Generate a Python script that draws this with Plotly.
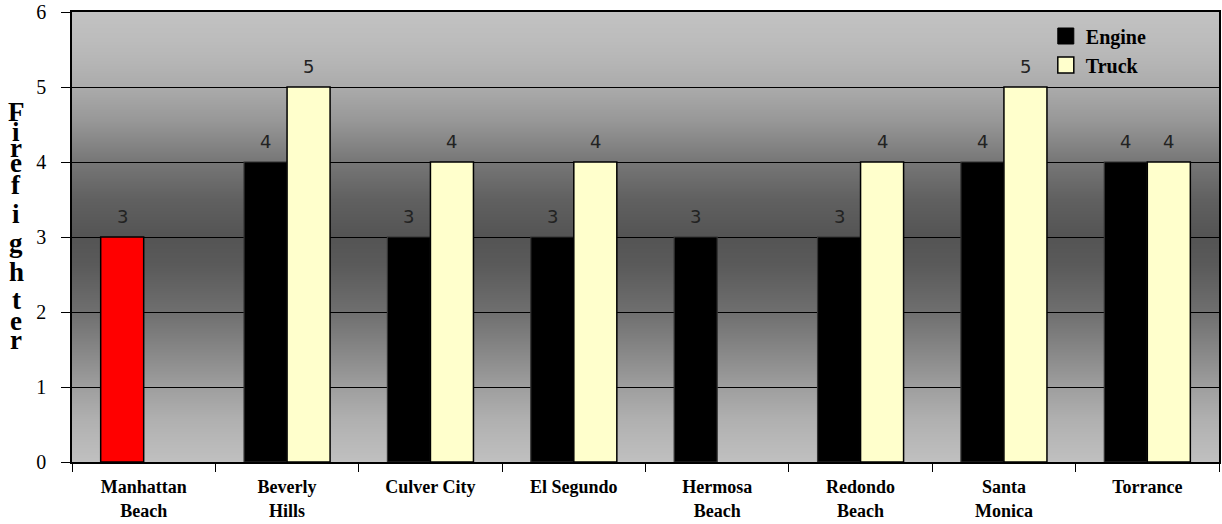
import plotly.graph_objects as go

categories = ["Manhattan<br>Beach", "Beverly<br>Hills", "Culver City", "El Segundo",
              "Hermosa<br>Beach", "Redondo<br>Beach", "Santa<br>Monica", "Torrance"]
engine = [3, 4, 3, 3, 3, 3, 4, 4]
truck = [None, 5, 4, 4, None, 4, 5, 4]
highlight = "Manhattan<br>Beach"
y_ticks = [0, 1, 2, 3, 4, 5, 6]
title_letters = list("Firefighter")

W, H = 1222, 524
L, R, T, B = 72, 3, 12, 62
ph = H - T - B

fig = go.Figure()
eng_black = [None if c == highlight else v for c, v in zip(categories, engine)]
eng_red = [v if c == highlight else None for c, v in zip(categories, engine)]
fig.add_trace(go.Bar(name="Engine", x=categories, y=eng_black, offsetgroup="e",
                     showlegend=False,
                     marker=dict(color="#000000", line=dict(color="#333333", width=1.2))))
fig.add_trace(go.Bar(name="Engine", x=categories, y=eng_red, offsetgroup="e",
                     showlegend=False,
                     marker=dict(color="#FF0000", line=dict(color="#000000", width=1.5))))
fig.add_trace(go.Bar(name="Truck", x=categories, y=truck, offsetgroup="t",
                     showlegend=False,
                     marker=dict(color="#FFFFCC", line=dict(color="#000000", width=1.5))))
# legend entries
fig.add_trace(go.Scatter(name="<b>Engine</b>", x=[None], y=[None], mode="markers",
                         marker=dict(symbol="square", size=16, color="#000000",
                                     line=dict(color="#000000", width=1))))
fig.add_trace(go.Scatter(name="<b>Truck</b>", x=[None], y=[None], mode="markers",
                         marker=dict(symbol="square", size=16, color="#FFFFCC",
                                     line=dict(color="#000000", width=1.5))))

# background gradient (style only)
stops = [(12, 194), (40, 188), (60, 182), (87, 171), (120, 152), (160, 120), (200, 96),
         (237, 84), (265, 90), (290, 101), (312, 111), (340, 128), (387, 158), (420, 176),
         (462, 192)]

def shade(py):
    for (a, ca), (b, cb) in zip(stops, stops[1:]):
        if a <= py <= b:
            return ca + (cb - ca) * (py - a) / (b - a)
    return stops[-1][1]

shapes = []
for py in range(T, T + ph):
    g = int(round(shade(py + 0.5)))
    y1 = 1 - (py - T) / ph
    y0 = max(1 - (py + 2 - T) / ph, 0)
    shapes.append(dict(type="rect", xref="x domain", yref="y domain", x0=0, x1=1,
                       y0=y0, y1=y1, fillcolor=f"rgb({g},{g},{g})",
                       line=dict(width=0), layer="below"))

annotations = []
# data labels
bar_px = (W - L - R) / len(categories) * 0.3
for i, cat in enumerate(categories):
    for val, dx in ((engine[i], -bar_px / 2), (truck[i], bar_px / 2)):
        if val is None:
            continue
        annotations.append(dict(x=cat, y=val, xref="x", yref="y", text=str(val),
                                showarrow=False, xshift=dx, yshift=21,
                                font=dict(family="DejaVu Sans", size=18, color="#222222")))

# vertical stacked title
letter_px = [112, 132, 148, 163, 185, 214, 243, 272, 300, 321, 340]
for ch, p in zip(title_letters, letter_px):
    annotations.append(dict(x=-0.0485, y=1 - (p - T) / ph, xref="paper", yref="paper",
                            text=f"<b>{ch}</b>", showarrow=False, xanchor="center",
                            yanchor="middle",
                            font=dict(family="Liberation Serif", size=27, color="#000000")))

fig.update_layout(
    width=W, height=H,
    margin=dict(l=L, r=R, t=T, b=B, autoexpand=False),
    paper_bgcolor="white", plot_bgcolor="rgba(0,0,0,0)",
    barmode="group", bargap=0.4, bargroupgap=0,
    shapes=shapes, annotations=annotations,
    legend=dict(x=0.849, y=0.99, xanchor="left", yanchor="top",
                bgcolor="rgba(0,0,0,0)", itemwidth=30,
                font=dict(family="Liberation Serif", size=20, color="#000000"),
                tracegroupgap=0),
    font=dict(family="Liberation Serif", color="#000000"),
)

fig.update_xaxes(showline=True, linecolor="#000000", linewidth=1.5, mirror=True,
                 ticks="outside", tickson="boundaries", ticklen=8, tickcolor="#000000",
                 tickfont=dict(family="Liberation Serif", size=18, color="#000000"),
                 tickprefix="<b>", ticksuffix="</b>", ticklabelstandoff=8,
                 showgrid=False, automargin=False)
fig.update_yaxes(range=[0, 6], tickvals=y_ticks, showline=True, linecolor="#000000",
                 linewidth=1.5, mirror=True, ticks="outside", ticklen=9,
                 tickcolor="#000000", showgrid=True, gridcolor="#000000", gridwidth=1,
                 zeroline=False, automargin=False,
                 tickfont=dict(family="Liberation Serif", size=20, color="#000000"),
                 ticklabelstandoff=11)

fig.write_html("out.html")
